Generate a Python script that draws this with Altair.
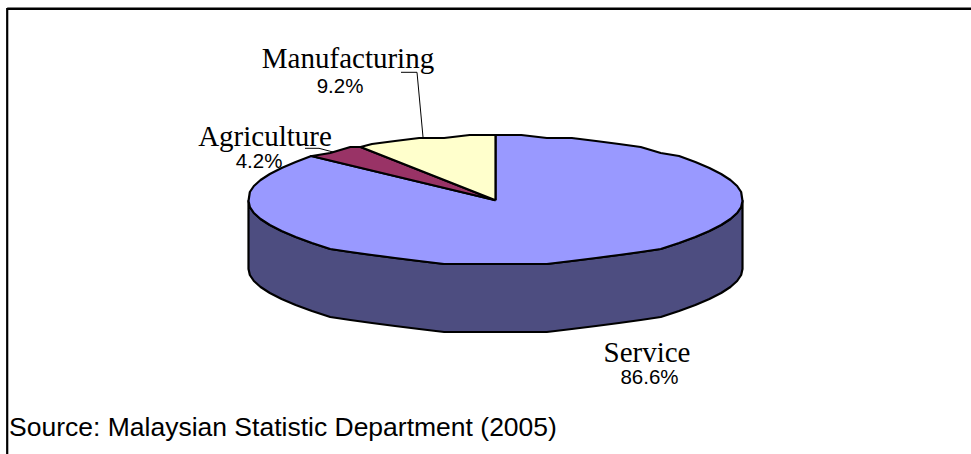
import math
import altair as alt
import pandas as pd

# Employment shares by sector, in percent
sectors = ["Manufacturing", "Agriculture", "Service"]
shares = [9.2, 4.2, 86.6]
slice_colors = ["#ffffcc", "#993366", "#9999ff"]
side_color = "#4d4d80"
source_note = "Source: Malaysian Statistic Department (2005)"

W, H = 971, 454
CX, CY, RX, RY, DEPTH = 495.5, 200.2, 247, 64.2, 68
STEP = 6  # degrees between rim vertices
GRID = 3  # vertical snap of rim vertices, gives the coarse polygonal edge

x_scale = alt.Scale(domain=[0, W], range=[0, W], nice=False, zero=False)
y_scale = alt.Scale(domain=[0, H], range=[0, H], nice=False, zero=False)


def rim(a0, a1, dy=0):
    """Points on the pie rim, angles clockwise from twelve o'clock."""
    lo, hi = sorted((a0, a1))
    inner = [STEP * k for k in range(math.ceil(lo / STEP), math.floor(hi / STEP) + 1)]
    angles = sorted({lo, hi, *inner}, reverse=a0 > a1)
    out = []
    for deg in angles:
        a = math.radians(deg)
        y = CY - RY * math.cos(a)
        out.append((CX + RX * math.sin(a), round(y / GRID) * GRID + dy))
    return out


def polygon(points, fill, width=2.2):
    df = pd.DataFrame(points, columns=["px", "py"])
    df["i"] = range(len(df))
    return alt.Chart(df).mark_line(
        fill=fill, stroke="#000000", strokeWidth=width, strokeJoin="round", clip=False
    ).encode(
        x=alt.X("px:Q", scale=x_scale, axis=None),
        y=alt.Y("py:Q", scale=y_scale, axis=None),
        order="i:Q",
    )


def rule(points, width):
    df = pd.DataFrame(points, columns=["px", "py"])
    df["i"] = range(len(df))
    return alt.Chart(df).mark_line(color="#000000", strokeWidth=width).encode(
        x=alt.X("px:Q", scale=x_scale, axis=None),
        y=alt.Y("py:Q", scale=y_scale, axis=None),
        order="i:Q",
    )


def label(text, x, y, font, size, align="center"):
    df = pd.DataFrame({"t": [text]})
    return alt.Chart(df).mark_text(
        font=font, fontSize=size, align=align, baseline="alphabetic", color="#000000"
    ).encode(x=alt.value(x), y=alt.value(y), text="t:N")


# Slices run anticlockwise from twelve o'clock for the two small sectors,
# and the large sector closes the circle.
man_end = -shares[0] * 3.6
agr_end = man_end - shares[1] * 3.6

centre = [(CX, CY)]
side = polygon(rim(90, 270) + rim(270, 90, DEPTH) + [(CX + RX, CY)], side_color)
service = polygon(centre + rim(0, 360 + agr_end) + centre, slice_colors[2])
agriculture = polygon(centre + rim(man_end, agr_end) + centre, slice_colors[1])
manufacturing = polygon(centre + rim(0, man_end) + centre, slice_colors[0])

layers = [
    rule([(7.2, 8.8), (W, 8.8)], 2.5),
    rule([(7.2, 8), (7.2, H)], 2.2),
    side, service, agriculture, manufacturing,
    rule([(401, 72.3), (417, 72.3), (423, 137)], 1),
    rule([(305, 148.3), (319, 148.3), (333, 152)], 1),
    label(sectors[0], 348, 68, "Liberation Serif", 29),
    label(f"{shares[0]}%", 340, 93, "Liberation Sans", 20.5),
    label(sectors[1], 265, 146, "Liberation Serif", 29),
    label(f"{shares[1]}%", 259, 168, "Liberation Sans", 20.5),
    label(sectors[2], 647, 362, "Liberation Serif", 29),
    label(f"{shares[2]}%", 649.5, 384, "Liberation Sans", 20.5),
    label(source_note, 9, 436, "Liberation Sans", 26.5, align="left"),
]

chart = alt.layer(*layers).properties(
    width=W, height=H, padding=0, autosize=alt.AutoSizeParams(type="none"), background="#ffffff"
).configure_view(strokeWidth=0)

chart.save("out.html", embed_options={"renderer": "svg", "actions": False})
